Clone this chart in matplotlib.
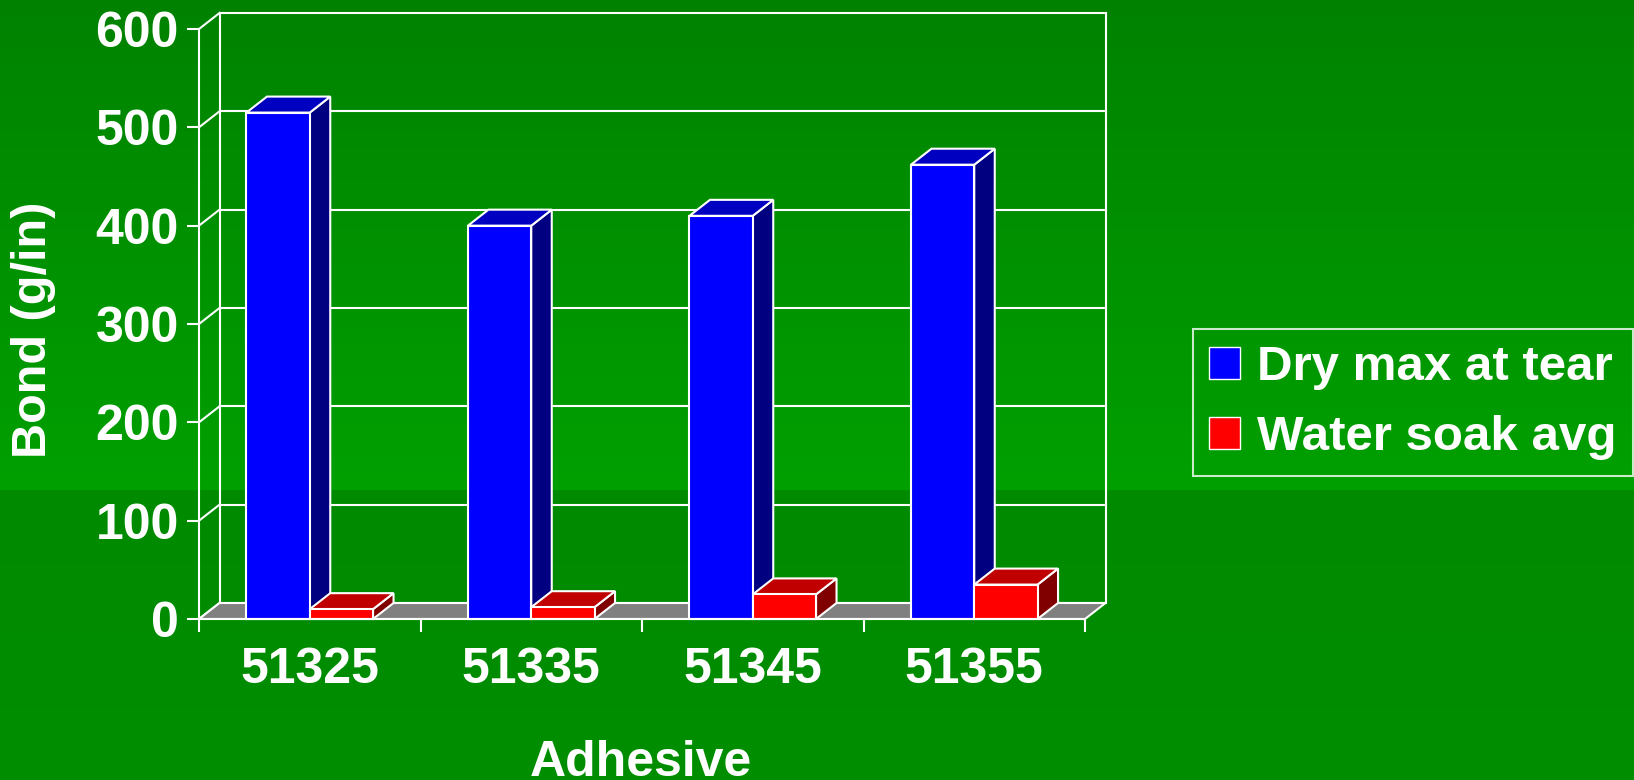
import numpy as np
import matplotlib
matplotlib.use("Agg")
import matplotlib.pyplot as plt
from matplotlib.patches import Polygon, Patch

plt.rcParams['font.family'] = ['Liberation Sans', 'DejaVu Sans']
plt.rcParams['font.weight'] = 'bold'

# data
adhesives = ['51325', '51335', '51345', '51355']
dry_max = [515, 400, 410, 462]
water_soak = [10, 12, 25, 35]
series_names = ['Dry max at tear', 'Water soak avg']
yticks = [0, 100, 200, 300, 400, 500, 600]

W, H = 1634, 780
fig = plt.figure(figsize=(W / 100, H / 100), dpi=100)

# green backdrop, lighter toward the middle with a step below it
rows = np.arange(H)
g = np.where(rows < 490, 130 + 30 * rows / 490, 138 + 4 * (rows - 490) / (H - 490))
grad = np.zeros((H, 1, 3))
grad[:, 0, 1] = g / 255
bg = fig.add_axes([0, 0, 1, 1])
bg.imshow(grad, aspect='auto', extent=[0, 1, 0, 1])
bg.axis('off')

ax = fig.add_axes([199 / W, 161 / H, 886 / W, 590 / H])
ax.patch.set_visible(False)
n = len(adhesives)
ax.set_xlim(0, n)
ax.set_ylim(0, 600)

# depth of the pseudo-3d box, in data units
px_x = 886 / n
px_y = 590 / 600
dx = 20.5 / px_x
dy = 16 / px_y
lw = 1.5

# back wall, side wall gridlines
for v in yticks:
    ax.plot([0, dx], [v, v + dy], color='white', lw=lw, clip_on=False, zorder=1)
    ax.plot([dx, n + dx], [v + dy, v + dy], color='white', lw=lw, clip_on=False, zorder=1)
ax.plot([dx, dx], [dy, 600 + dy], color='white', lw=lw, clip_on=False, zorder=1)
ax.plot([n + dx, n + dx], [dy, 600 + dy], color='white', lw=lw, clip_on=False, zorder=1)

# floor
ax.add_patch(Polygon([(0, 0), (n, 0), (n + dx, dy), (dx, dy)], closed=True,
                     facecolor='#808080', edgecolor='white', lw=lw, clip_on=False, zorder=2))

bw = 1 / 3.5


def bar3d(x0, v, front, top, side):
    x1 = x0 + bw
    ax.add_patch(Polygon([(x1, 0), (x1 + dx, dy), (x1 + dx, v + dy), (x1, v)],
                         facecolor=side, edgecolor='white', lw=lw, clip_on=False, zorder=3))
    ax.add_patch(Polygon([(x0, v), (x1, v), (x1 + dx, v + dy), (x0 + dx, v + dy)],
                         facecolor=top, edgecolor='white', lw=lw, clip_on=False, zorder=3))
    ax.add_patch(Polygon([(x0, 0), (x1, 0), (x1, v), (x0, v)],
                         facecolor=front, edgecolor='white', lw=lw, clip_on=False, zorder=3))


for i in range(n):
    c = i + 0.5
    bar3d(c - bw, dry_max[i], '#0000ff', '#0000c0', '#000080')
    bar3d(c, water_soak[i], '#ff0000', '#c00000', '#800000')

for s in ['top', 'right']:
    ax.spines[s].set_visible(False)
for s in ['left', 'bottom']:
    ax.spines[s].set_color('white')
    ax.spines[s].set_linewidth(lw)
    ax.spines[s].set_zorder(4)

ax.set_yticks(yticks)
ax.set_yticklabels([str(v) for v in yticks])
ax.tick_params(axis='y', colors='white', length=8.6, width=lw, pad=6, labelsize=36)
ax.set_xticks(range(n + 1))
ax.set_xticklabels([])
ax.set_xticks(np.arange(n) + 0.5, minor=True)
ax.set_xticklabels(adhesives, minor=True)
ax.tick_params(axis='x', which='major', colors='white', length=9.4, width=lw)
ax.tick_params(axis='x', which='minor', colors='white', length=0, pad=20, labelsize=36)

fig.text(34 / W, 1 - 330 / H, 'Bond (g/in)', rotation=90, ha='center', va='center',
         color='white', fontsize=35, fontweight='bold')
fig.text(641 / W, 1 - 776 / H, 'Adhesive', ha='center', va='baseline',
         color='white', fontsize=36, fontweight='bold')

handles = [Patch(facecolor='#0000ff', edgecolor='white', lw=1),
           Patch(facecolor='#ff0000', edgecolor='white', lw=1)]
leg = fig.legend(handles, series_names, loc='upper left',
                 bbox_to_anchor=(1193 / W, 1 - 329 / H), frameon=True, fancybox=False,
                 facecolor='none', edgecolor='white', labelcolor='white',
                 prop={'family': ['Liberation Sans'], 'weight': 'bold', 'size': 35.5},
                 handlelength=0.62, handleheight=0.62, handletextpad=0.35,
                 borderpad=0.33, labelspacing=0.5, borderaxespad=0)
leg.get_frame().set_linewidth(lw)

fig.savefig('out.png', dpi=100)
